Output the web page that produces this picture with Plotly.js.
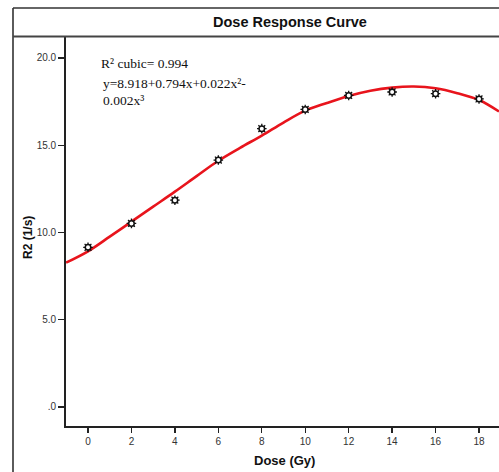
<!DOCTYPE html>
<html>
<head>
<meta charset="utf-8">
<script src="https://cdn.plot.ly/plotly-3.0.1.min.js"></script>
<style>html,body{margin:0;padding:0;background:#fff;}#chart{width:499px;height:472px;}</style>
</head>
<body>
<div id="chart"></div>
<script>
// Observed data points
var doseGy = [0, 2, 4, 6, 8, 10, 12, 14, 16, 18];
var r2Values = [9.15, 10.52, 11.85, 14.15, 15.95, 17.05, 17.85, 18.05, 17.95, 17.65];

// Fitted cubic curve
var fitDose = [-1.01, 0, 1, 2, 3, 4, 5, 6, 7, 8, 9, 10, 11, 12, 13, 14, 15, 16, 17, 18, 18.92];
var fitR2 = [8.27, 8.92, 9.76, 10.62, 11.48, 12.34, 13.23, 14.11, 14.85, 15.55, 16.3, 16.98, 17.42, 17.82, 18.12, 18.3, 18.36, 18.26, 17.98, 17.59, 16.93];

var xTickVals = [0, 2, 4, 6, 8, 10, 12, 14, 16, 18];
var xTickText = ['0', '2', '4', '6', '8', '10', '12', '14', '16', '18'];
var yTickVals = [0, 5, 10, 15, 20];
var yTickText = ['.0', '5.0', '10.0', '15.0', '20.0'];

var chartTitle = 'Dose Response Curve';
var xTitle = 'Dose (Gy)';
var yTitle = 'R2 (1/s)';
var fitLine1 = 'R² cubic= 0.994';
var fitLine2 = 'y=8.918+0.794x+0.022x²-';
var fitLine3 = '0.002x³';

var sans = 'Liberation Sans, Arial, sans-serif';
var serif = 'Liberation Serif, Times New Roman, serif';

var traces = [
  {
    x: fitDose, y: fitR2, type: 'scatter', mode: 'lines',
    line: {color: '#e8141c', width: 2.6, shape: 'spline', smoothing: 1},
    hoverinfo: 'skip', showlegend: false
  },
  {
    x: doseGy, y: r2Values, type: 'scatter', mode: 'markers',
    marker: {symbol: 'asterisk-open', size: 8, color: '#111', line: {color: '#111', width: 1.3}},
    showlegend: false
  },
  {
    x: doseGy, y: r2Values, type: 'scatter', mode: 'markers',
    marker: {symbol: 'circle', size: 5.5, color: '#fff', line: {color: '#111', width: 1.5}},
    showlegend: false
  }
];

var L = 66, T = 37, W = 499 - 66, H = 426 - 37;
function px(x) { return (x - L) / W; }
function py(y) { return (T + H - y) / H; }

var layout = {
  width: 499, height: 472,
  margin: {l: 66, r: 0, t: 37, b: 46, pad: 0},
  paper_bgcolor: '#fff', plot_bgcolor: '#fff',
  showlegend: false,
  font: {family: sans, color: '#333', size: 10},
  xaxis: {
    range: [-1.013, 18.92], tickvals: xTickVals, ticktext: xTickText,
    ticks: 'outside', ticklen: 5, tickwidth: 1.3, tickcolor: '#222',
    showline: true, linecolor: '#222', linewidth: 1.8,
    showgrid: false, zeroline: false,
    tickfont: {family: sans, size: 10, color: '#333'}
  },
  yaxis: {
    range: [-1.089, 21.2], tickvals: yTickVals, ticktext: yTickText,
    ticks: 'outside', ticklen: 6, tickwidth: 1.3, tickcolor: '#222',
    showline: true, linecolor: '#222', linewidth: 1.8,
    showgrid: false, zeroline: false,
    tickfont: {family: sans, size: 10, color: '#333'}
  },
  shapes: [
    {type: 'line', xref: 'paper', yref: 'paper', x0: px(13), x1: px(13), y0: py(8), y1: py(480), line: {color: '#333', width: 1.6}},
    {type: 'line', xref: 'paper', yref: 'paper', x0: px(13), x1: px(510), y0: py(8), y1: py(8), line: {color: '#333', width: 1.6}},
    {type: 'line', xref: 'paper', yref: 'paper', x0: px(13), x1: px(510), y0: py(36.5), y1: py(36.5), line: {color: '#444', width: 2}}
  ],
  annotations: [
    {text: '<b>' + chartTitle + '</b>', xref: 'paper', yref: 'paper', x: px(289.5), y: py(22), xanchor: 'center', yanchor: 'middle', showarrow: false, font: {family: sans, size: 14.5, color: '#111'}},
    {text: '<b>' + xTitle + '</b>', xref: 'paper', yref: 'paper', x: px(284), y: py(460), xanchor: 'center', yanchor: 'middle', showarrow: false, font: {family: sans, size: 13, color: '#111'}},
    {text: '<b>' + yTitle + '</b>', xref: 'paper', yref: 'paper', x: px(28), y: py(238), xanchor: 'center', yanchor: 'middle', textangle: -90, showarrow: false, font: {family: sans, size: 12, color: '#111'}},
    {text: fitLine1, xref: 'paper', yref: 'paper', x: px(99), y: py(63), xanchor: 'left', yanchor: 'middle', showarrow: false, font: {family: serif, size: 13.5, color: '#111'}},
    {text: fitLine2, xref: 'paper', yref: 'paper', x: px(100.5), y: py(84), xanchor: 'left', yanchor: 'middle', showarrow: false, font: {family: serif, size: 13.5, color: '#111'}},
    {text: fitLine3, xref: 'paper', yref: 'paper', x: px(100.5), y: py(101), xanchor: 'left', yanchor: 'middle', showarrow: false, font: {family: serif, size: 13.5, color: '#111'}}
  ]
};

Plotly.newPlot('chart', traces, layout, {staticPlot: true, displayModeBar: false});
</script>
</body>
</html>
